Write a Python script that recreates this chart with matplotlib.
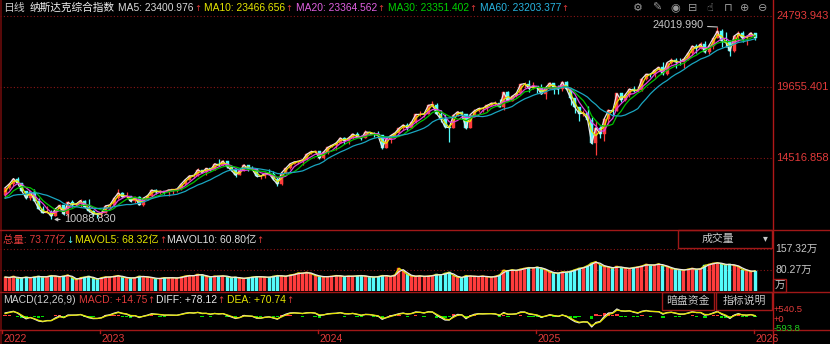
import numpy as np
import pandas as pd
import matplotlib
matplotlib.use("Agg")
import matplotlib.pyplot as plt

plt.rcParams['font.family'] = ['Liberation Sans', 'Noto Sans CJK SC', 'DejaVu Sans']

# ---------------- data (weekly bars, Jul 2022 - Jan 2026) ----------------
warmup_close = [12145, 11805, 11355, 12131, 12013, 11341, 10798, 11608, 11128, 11635, 11452, 11834]

week_close = [
    12391, 12657, 13047, 12706, 12142, 11631, 12112, 11448, 10868, 10576, 10652, 10321, 10860, 11102, 10475,
    11323, 11146, 11226, 11462, 11005, 10705, 10498, 10466,
    10569, 11079, 11140, 11622, 12007, 11718, 11787, 11395, 11689, 11138, 11631, 11824, 12222, 12088, 12123,
    12072, 12227, 12235, 12285, 12658, 12976, 13241, 13259, 13690, 13492, 13788, 13661, 14114, 14033, 14317,
    13909, 13645, 13291, 13590, 14031, 13762, 13709, 13212, 13219, 13431, 13407, 12984, 12643, 13478, 13798,
    14125, 14251, 14305, 14404, 14814, 14993, 15011,
    14524, 14972, 15311, 15455, 15629, 15990, 15776, 15997, 16275, 16085, 15973, 16429, 16379, 16249, 16175,
    15282, 15928, 16156, 16341, 16686, 16921, 16735, 17133, 17689, 17689, 17733, 18353, 18398, 17727, 17358,
    16776, 16745, 17632, 17877, 17714, 16691, 17684, 17948, 18120, 18138, 18343, 18490, 18519, 18240, 19287,
    18680, 19004, 19218, 19860, 19927, 19573, 19722,
    19621, 19162, 19630, 19954, 19627, 19523, 20027, 19524, 18847, 18196, 17754, 17784, 17323, 15588, 16724,
    16286, 17383, 17978, 17929, 19211, 18737, 19114, 19530, 19407, 19447, 20273, 20601, 20586, 20896, 21108,
    20650, 21450, 21623, 21496, 21456, 21700, 22141, 22631, 22484, 22780, 22204, 22680, 23205, 23725, 23005,
    22900, 22273, 23366, 23578, 23195, 23307, 23593, 23236,
]

week_high = [
    12435, 12720, 13080, 13181, 12760, 12145, 12150, 12270, 11620, 11040, 11050, 10770, 10870, 11240, 11120,
    11440, 11480, 11280, 11570, 11470, 11570, 10760, 10590,
    10630, 11100, 11220, 11670, 12270, 12080, 12070, 11800, 11700, 11770, 11730, 11930, 12230, 12270, 12250,
    12170, 12250, 12270, 12330, 12730, 13010, 13290, 13390, 13800, 13690, 13820, 13840, 14150, 14446, 14360,
    14330, 14000, 13690, 13830, 14120, 14060, 13950, 13750, 13300, 13460, 13710, 13590, 13170, 13490, 13830,
    14150, 14300, 14330, 14420, 14840, 15090, 15110,
    15020, 15040, 15320, 15520, 15690, 16020, 16050, 16130, 16300, 16450, 16210, 16540, 16450, 16450, 16460,
    16180, 16000, 16270, 16400, 16790, 17030, 17100, 17200, 17700, 17940, 17800, 18360, 18671, 18520, 18000,
    17700, 16810, 17650, 17960, 17940, 17720, 17700, 18050, 18210, 18170, 18380, 18560, 18690, 18780, 19330,
    19370, 19010, 19250, 19870, 20060, 20204, 20050,
    19770, 19860, 19680, 20070, 20000, 19830, 20100, 20110, 19530, 18890, 18200, 18040, 18280, 17530, 17200,
    16870, 17440, 18050, 18100, 19250, 19270, 19250, 19560, 19760, 19720, 20320, 20630, 20680, 20920, 21140,
    21460, 21500, 21800, 21790, 21790, 21880, 22190, 22700, 22800, 22920, 23040, 22780, 23230, 24019.99, 23880,
    23640, 23060, 23380, 23700, 23700, 23330, 23650, 23600,
]

week_low = [
    11645, 12290, 12530, 12660, 12120, 11600, 11500, 11400, 10850, 10540, 10560, 10088.83, 10320, 10740, 10400,
    10300, 11000, 11040, 10980, 10970, 10600, 10320, 10210,
    10265, 10550, 10940, 11080, 11550, 11690, 11690, 11350, 11270, 11130, 11080, 11520, 11740, 11930, 11930,
    11930, 11800, 11930, 12090, 12190, 12570, 12930, 13110, 13230, 13450, 13320, 13580, 13640, 13990, 13950,
    13840, 13600, 13160, 13280, 13580, 13590, 13650, 13170, 13000, 13080, 13360, 12960, 12545, 12600, 13460,
    13760, 14090, 14130, 14060, 14360, 14800, 14960,
    14480, 14500, 14850, 15300, 15140, 15600, 15580, 15530, 15900, 16080, 15840, 15950, 16270, 16050, 16150,
    15220, 15280, 15630, 16100, 16330, 16600, 16570, 16730, 17050, 17580, 17500, 17700, 18260, 17700, 17150,
    16740, 15708, 16700, 17580, 17350, 16650, 16680, 17600, 17900, 17860, 17930, 18300, 18290, 18220, 17980,
    18660, 18670, 18940, 19150, 19600, 19280, 19520,
    19260, 19150, 18830, 19610, 19160, 19140, 19400, 19490, 18370, 17770, 17240, 17600, 17280, 15560, 14784,
    16000, 15800, 17000, 17600, 17920, 18600, 18700, 18930, 19300, 19350, 19420, 20200, 20380, 20400, 20800,
    20560, 20550, 21320, 21020, 21300, 21050, 21650, 22000, 22150, 22400, 22170, 22080, 22400, 23200, 22600,
    22560, 21898, 22200, 23030, 22940, 22690, 23300, 23100,
]

# average daily volume per week (万)
week_volume = [
    52, 50, 55, 48, 50, 52, 49, 53, 55, 52, 54, 58, 55, 53, 56, 60, 50, 42, 50, 52, 55, 48, 44,
    50, 53, 52, 55, 58, 52, 50, 48, 50, 55, 54, 52, 50, 46, 47, 50, 49, 50, 48, 52, 56, 58, 57, 62,
    60, 55, 52, 56, 55, 57, 54, 50, 52, 48, 47, 50, 52, 54, 53, 52, 51, 55, 58, 56, 55, 60, 62, 68,
    66, 70, 65, 58,
    55, 53, 54, 55, 58, 56, 54, 56, 55, 57, 58, 55, 53, 52, 54, 58, 57, 54,
    60, 85, 75, 62, 56, 55, 57,
    54, 56, 58, 62, 60, 66, 70, 58, 52, 50, 58, 55,
    55, 54, 56, 53, 52, 55, 60,
    78, 75, 80, 76, 82, 85, 88,
    86, 90, 84, 80,
    70, 68, 66, 72, 70, 74, 80, 85,
    88, 95, 105, 110, 98, 92,
    90, 85, 92, 88, 86, 84, 88, 90, 94,
    100, 96, 98, 102, 95, 92,
    84, 82, 80, 78, 82, 85, 80, 84,
    96, 100, 104, 106, 102, 98, 100, 96, 92,
    80, 78, 72, 76,
]

ma_names = ['MA5', 'MA10', 'MA20', 'MA30', 'MA60']
ma_weeks = [1, 2, 4, 6, 12]          # daily windows expressed in weeks
ma_header_values = ['23400.976', '23466.656', '23364.562', '23351.402', '23203.377']
vol_ma_weeks = [1, 2]
price_ticks = [24793.943, 19655.401, 14516.858]
vol_tick_labels = ['157.32万', '80.27万']
vol_ticks = [157.32, 80.27]
macd_labels = ['+540.5', '+0', '-593.8']
year_labels = ['2022', '2023', '2024', '2025', '2026']
year_bar_index = [0, 23, 75, 127, 179]

assert len(week_close) == len(week_high) == len(week_low) == len(week_volume) == 180

# ---------------- derived ----------------
n = len(week_close)
full_close = pd.Series(warmup_close + week_close, dtype=float)
nw = len(warmup_close)
week_open = np.array(full_close.shift(1).iloc[nw:])
close = np.array(week_close, dtype=float)
high = np.maximum.reduce([np.array(week_high, float), close, week_open])
low = np.minimum.reduce([np.array(week_low, float), close, week_open])
vol = np.array(week_volume, dtype=float)
idx = np.arange(n)
up = close >= week_open

mas = [full_close.rolling(w).mean().iloc[nw:].values for w in ma_weeks]
vol_s = pd.Series(vol)
vmas = [vol_s.rolling(w, min_periods=1).mean().values for w in vol_ma_weeks]

ema_f = full_close.ewm(span=12 / 5, adjust=False).mean()
ema_s = full_close.ewm(span=26 / 5, adjust=False).mean()
diff = ema_f - ema_s
dea = diff.ewm(span=9 / 5, adjust=False).mean()
macd = 2 * (diff - dea)
diff = diff.iloc[nw:].values
dea = dea.iloc[nw:].values
macd = macd.iloc[nw:].values

# ---------------- layout ----------------
W, H = 830, 344
BG = '#000000'
RED = '#E23A3A'
DRED = '#8A1515'
UPC = '#FF3C3C'
DNC = '#54FCFC'
GRAY = '#C8C8C8'
ma_colors = ['#E8E8E8', '#E6E600', '#E040E0', '#00C000', '#1AA6C0']
ma_text_colors = ['#D8D8D8', '#E6E600', '#E060E0', '#00D000', '#28B4E0']
SYM = ['DejaVu Sans', 'Noto Sans CJK SC']

X0, PX = 5.1, 4.19
XL = (-X0 / PX, (772 - X0) / PX)


def rect(x0, y0, x1, y1):
    return [x0 / W, 1 - y1 / H, (x1 - x0) / W, (y1 - y0) / H]


fig = plt.figure(figsize=(W / 100, H / 100), dpi=100, facecolor=BG)
renderer = fig.canvas.get_renderer()

# price panel
axp = fig.add_axes(rect(0, 0, 772, 229))
vpp = (price_ticks[1] - price_ticks[2]) / (158.3 - 87.3)
axp.set_ylim(price_ticks[2] - (229 - 158.3) * vpp, price_ticks[0] + 16.3 * vpp)
axp.set_xlim(*XL)
for yv in price_ticks:
    axp.axhline(yv, color=DRED, lw=0.8, ls=(0, (1, 2)))
bw = 0.72
col = np.where(up, UPC, DNC)
axp.vlines(idx, low, high, colors=col, lw=0.9, zorder=2)
body_b = np.minimum(week_open, close)
body_h = np.maximum(np.abs(close - week_open), vpp * 0.8)
axp.bar(idx, body_h, bottom=body_b, width=bw, color=col, edgecolor=col, lw=0.3, zorder=3)
for m, c in zip(mas, ma_colors):
    axp.plot(idx, m, color=c, lw=0.9, zorder=4)
imax = int(np.argmax(high))
imin = int(np.argmin(low))
axp.annotate(f'{high[imax]:.3f}', xy=(imax, high[imax]), xytext=(-14, 2), textcoords='offset pixels',
             ha='right', va='center', color=GRAY, fontsize=7.8,
             arrowprops=dict(arrowstyle='-', color=GRAY, lw=0.8, shrinkA=1, shrinkB=0))
axp.annotate(f'{low[imin]:.3f}', xy=(imin, low[imin]), xytext=(13, 0), textcoords='offset pixels',
             ha='left', va='center', color=GRAY, fontsize=7.8,
             arrowprops=dict(arrowstyle='->', color=GRAY, lw=0.8, shrinkA=1, shrinkB=2, mutation_scale=5))

# volume panel
axv = fig.add_axes(rect(0, 230, 772, 291))
vtop = (291 - 230) * vol_ticks[0] / (291 - 249)
axv.set_ylim(0, vtop)
axv.set_xlim(*XL)
for yv in vol_ticks:
    axv.axhline(yv, color=DRED, lw=0.8, ls=(0, (1, 2)))
axv.bar(idx, vol, width=bw, color=col, edgecolor=col, lw=0.3, zorder=2)
axv.plot(idx, vmas[0], color='#E6E600', lw=0.9, zorder=3)
axv.plot(idx, vmas[1], color='#E8E8E8', lw=0.9, zorder=3)

# MACD panel
axm = fig.add_axes(rect(0, 292, 772, 329))
mx = max(diff.max(), dea.max(), macd.max())
mn = min(diff.min(), dea.min(), macd.min())
vpm = (mx - mn) / 18.0
axm.set_ylim(mn - 2 * vpm, mx + 17 * vpm)
axm.set_xlim(*XL)
axm.bar(idx, macd, width=0.8, color=np.where(macd >= 0, '#FF3C3C', '#00E000'), lw=0, zorder=2)
axm.plot(idx, diff, color='#E8E8E8', lw=0.9, zorder=3)
axm.plot(idx, dea, color='#E6E600', lw=0.9, zorder=3)

for a in (axp, axv, axm):
    a.set_facecolor(BG)
    a.axis('off')

# overlay (pixel coordinates)
ax = fig.add_axes([0, 0, 1, 1], zorder=10)
ax.set_xlim(0, W)
ax.set_ylim(H, 0)
ax.axis('off')
ax.patch.set_alpha(0)


def label_arrow(x, y, s, c, arrow, acol, fs=7.5):
    """Text at pixel x followed directly by a small arrow."""
    t = ax.text(x, y, s, color=c, fontsize=fs, va='center')
    bb = t.get_window_extent(renderer=renderer)
    ax.text(bb.x1 + 0.3, y + 0.5, arrow, color=acol, fontsize=fs - 1.3, va='center', family=SYM)


# frame lines
ax.plot([0.8, 0.8], [0, H], color='#6A0C0C', lw=1.2)
ax.plot([772.5, 772.5], [0, H], color='#B01818', lw=1.0)
for yy in (229.5, 291.5, 329.5):
    ax.plot([0, W], [yy, yy], color='#A01818', lw=1.0)

# header row
fs = 7.5
ax.text(3, 8, '日线', color=GRAY, fontsize=7.8, va='center')
ax.text(30, 8, '纳斯达克综合指数', color='#F0F0F0', fontsize=7.7, va='center')
ma_x = [118, 204, 296, 388, 480]
for name, val, c, x in zip(ma_names, ma_header_values, ma_text_colors, ma_x):
    label_arrow(x, 8, f'{name}: {val}', c, '↑', RED, fs=7.4)

icons = ['⚙', '✎', '◉', '⊟', '☝', '⊓', '⊕', '⊖']
icon_x = [638, 657, 675, 693, 710, 728, 745, 763]
for g, x in zip(icons, icon_x):
    ax.text(x, 8, g, color='#9A9A9A', fontsize=8, va='center', ha='center', family=SYM)

# right axis labels (price)
pvals_px = [16.3, 87.3, 158.3]
for v, yy in zip(price_ticks, pvals_px):
    ax.text(776, yy, f'{v:.3f}', color=RED, fontsize=8, va='center')

# volume header
label_arrow(3, 240, '总量: 73.77亿', RED, '↓', DNC)
label_arrow(75, 240, 'MAVOL5: 68.32亿', '#E6E600', '↑', RED)
label_arrow(167, 240, 'MAVOL10: 60.80亿', '#E0E0E0', '↑', RED)

# 成交量 box
ax.add_patch(plt.Rectangle((678, 230), 94, 17.5, fill=False, ec='#A01818', lw=1.0))
ax.text(718, 239, '成交量', color=GRAY, fontsize=7.8, va='center', ha='center')
ax.text(765, 238.5, '▾', color=GRAY, fontsize=7, va='center', ha='center', family=SYM)

for lab, yv in zip(vol_tick_labels, vol_ticks):
    yy = 291 - yv / vtop * 61
    ax.text(775, yy, lab, color=GRAY, fontsize=fs, va='center')
ax.add_patch(plt.Rectangle((773, 279), 13, 12.5, fill=False, ec='#A01818', lw=1.0))
ax.text(779.5, 285.5, '万', color=GRAY, fontsize=7.5, va='center', ha='center')

# MACD header
ax.text(3, 300, 'MACD(12,26,9)', color='#D0D0D0', fontsize=fs, va='center')
label_arrow(79, 300, 'MACD: +14.75', RED, '↑', RED)
label_arrow(156, 300, 'DIFF: +78.12', '#E8E8E8', '↑', RED)
label_arrow(227, 300, 'DEA: +70.74', '#E6E600', '↑', RED)

# MACD buttons
ax.add_patch(plt.Rectangle((662, 292), 52, 18, fill=False, ec='#A01818', lw=1.0))
ax.text(688, 301, '暗盘资金', color=GRAY, fontsize=7.8, va='center', ha='center')
ax.add_patch(plt.Rectangle((716, 292), 56, 18, fill=False, ec='#A01818', lw=1.0))
ax.text(744, 301, '指标说明', color=GRAY, fontsize=7.8, va='center', ha='center')

ax.text(774, 309.5, macd_labels[0], color=RED, fontsize=6.8, va='center')
ax.text(774, 319, macd_labels[1], color=RED, fontsize=6.8, va='center')
ax.text(774, 328.5, macd_labels[2], color='#20D020', fontsize=6.8, va='center')

# date axis
for lab, bi in zip(year_labels, year_bar_index):
    xx = X0 + PX * bi - 1 if bi > 0 else 2
    ax.plot([xx, xx], [329.5, 333], color='#B01818', lw=1.0)
    ax.text(xx + 1, 338.5, lab, color=RED, fontsize=7.6, va='center')

fig.savefig('out.png', dpi=100, facecolor=BG)
